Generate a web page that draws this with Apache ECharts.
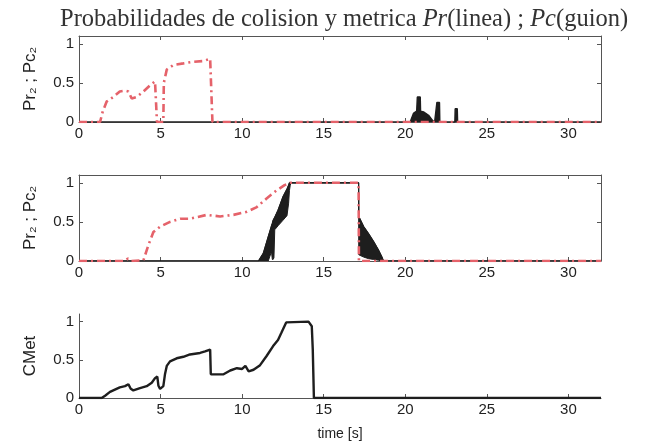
<!DOCTYPE html>
<html>
<head>
<meta charset="utf-8">
<script src="https://cdn.jsdelivr.net/npm/echarts@6/dist/echarts.min.js"></script>
<style>
html, body { margin: 0; padding: 0; background: #fff; }
#chart { width: 652px; height: 442px; }
</style>
</head>
<body>
<div id="chart"></div>
<script>
// 数据部分
// 图1: Pc (guion)
const pc1Time = [0, 1.29, 1.45, 1.69, 2.1, 2.5, 2.82, 3.03, 3.23, 3.54, 3.95, 4.36, 4.66, 4.76, 4.78, 5.17, 5.2, 5.38, 5.79, 6.4, 7.0, 7.63, 8.04, 8.14, 8.18, 32];
const pc1 = [0, 0, 0.13, 0.26, 0.32, 0.39, 0.4, 0.39, 0.3, 0.32, 0.39, 0.47, 0.52, 0.5, 0, 0, 0.5, 0.67, 0.73, 0.75, 0.77, 0.78, 0.81, 0.8, 0, 0];
// 图1: Pr (linea)
const pr1Time = [0, 20.3, 20.5, 20.7, 20.72, 20.74, 20.92, 20.94, 21.12, 21.43, 21.67, 21.8, 21.92, 21.94, 22.1, 22.12, 23.04, 23.06, 23.19, 23.21, 32];
const pr1 = [0, 0, 0.11, 0.14, 0.15, 0.32, 0.32, 0.14, 0.13, 0.086, 0.02, 0, 0, 0.25, 0.25, 0, 0, 0.17, 0.17, 0, 0];

// 图2: Pc
const pc2Time = [0, 2.8, 3.0, 3.2, 3.95, 4.25, 4.56, 4.97, 5.58, 6.2, 6.8, 7.83, 8.65, 9.47, 10.3, 10.9, 11.5, 12.1, 12.6, 12.95, 17.14, 17.16, 32];
const pc2 = [0, 0, 0.03, 0, 0.01, 0.2, 0.37, 0.44, 0.5, 0.54, 0.54, 0.59, 0.57, 0.59, 0.63, 0.69, 0.8, 0.9, 0.97, 1.0, 1.0, 0, 0];
// 图2: Pr (oscila, banda entre borde inferior y superior)
const pr2Time = [0, 11.0, 11.3, 11.5, 11.6, 11.8, 11.85, 11.9, 11.95, 12.0, 12.2, 12.5, 12.75, 12.85, 12.9, 12.95, 13.0, 17.14, 17.15, 17.45, 17.75, 18.06, 18.36, 18.57, 18.67, 32];
const pr2Upper = [0, 0, 0.1, 0.24, 0.31, 0.45, 0.48, 0.52, 0.54, 0.56, 0.65, 0.82, 0.92, 0.97, 1.0, 1.0, 1.0, 1.0, 0.57, 0.44, 0.35, 0.25, 0.14, 0.05, 0, 0];
const pr2Lower = [0, 0, 0, 0, 0, 0.12, 0.02, 0.02, 0.04, 0.4, 0.45, 0.52, 0.58, 0.74, 0.9, 0.97, 1.0, 1.0, 0.08, 0.05, 0.03, 0.02, 0.01, 0, 0, 0];

// 图3: CMet
const cmTime = [0, 1.39, 1.6, 1.9, 2.2, 2.5, 2.82, 3.03, 3.17, 3.33, 3.74, 4.15, 4.46, 4.66, 4.8, 4.87, 4.97, 5.17, 5.27, 5.38, 5.58, 5.99, 6.4, 6.8, 7.42, 7.73, 8.04, 8.08, 8.45, 8.86, 9.27, 9.68, 10.0, 10.2, 10.4, 10.7, 11.1, 11.5, 11.9, 12.2, 12.4, 12.7, 12.8, 14.07, 14.27, 14.33, 14.4, 32];
const cm = [0, 0, 0.03, 0.08, 0.11, 0.14, 0.155, 0.18, 0.12, 0.1, 0.13, 0.155, 0.2, 0.26, 0.28, 0.16, 0.12, 0.155, 0.31, 0.42, 0.48, 0.52, 0.54, 0.57, 0.59, 0.61, 0.635, 0.31, 0.31, 0.31, 0.36, 0.39, 0.38, 0.42, 0.35, 0.37, 0.43, 0.55, 0.68, 0.76, 0.85, 0.99, 1, 1, 0.94, 0.64, 0, 0];

const xTicks = { min: 0, max: 32, interval: 5 };
const yTicks = { min: 0, max: 1.1, interval: 0.5 };

function pairs(t, v) {
    return t.map(function (x, i) { return [x, v[i]]; });
}

let chart = echarts.init(document.getElementById('chart'));

const red = '#e5626a';
const black = '#1e1e1e';
const axisColor = '#555';
const font = 'Liberation Sans';

function xAxisOf(grid, pos, showLabel, name) {
    return {
        type: 'value', gridIndex: grid, position: pos,
        min: xTicks.min, max: xTicks.max, interval: xTicks.interval,
        axisLine: { show: true, onZero: false, lineStyle: { color: axisColor, width: 1 } },
        axisTick: { show: true, inside: true, length: 4, lineStyle: { color: axisColor } },
        axisLabel: { show: showLabel, showMaxLabel: false, color: '#222', fontSize: 15, fontFamily: font, margin: 4 },
        splitLine: { show: false },
        name: name || '', nameLocation: 'middle', nameGap: 29,
        nameTextStyle: { color: '#222', fontSize: 14, fontFamily: font }
    };
}
function yAxisOf(grid, pos, showLabel, name) {
    return {
        type: 'value', gridIndex: grid, position: pos,
        min: yTicks.min, max: yTicks.max, interval: yTicks.interval,
        axisLine: { show: true, onZero: false, lineStyle: { color: axisColor, width: 1 } },
        axisTick: { show: true, inside: true, length: 4, lineStyle: { color: axisColor } },
        axisLabel: { show: showLabel, showMaxLabel: false, color: '#222', fontSize: 15, fontFamily: font, margin: 5 },
        splitLine: { show: false },
        name: name || '', nameLocation: 'middle', nameGap: 40, nameRotate: 90,
        nameTextStyle: { color: '#222', fontSize: 17, fontFamily: font }
    };
}

function line(data, xi, color, width, dashed, extra) {
    let s = {
        type: 'line', xAxisIndex: xi, yAxisIndex: xi, data: data,
        symbol: 'none', animation: false, silent: true,
        lineStyle: { color: color, width: width, type: dashed ? [8, 4, 2, 4] : 'solid' }
    };
    return Object.assign(s, extra || {});
}

// banda de Pr en el grafico 2: borde superior de ida, borde inferior de vuelta
function renderBand(params, api) {
    let pts = [];
    for (let i = 0; i < pr2Time.length; i++) pts.push(api.coord([pr2Time[i], pr2Upper[i]]));
    for (let i = pr2Time.length - 1; i >= 0; i--) pts.push(api.coord([pr2Time[i], pr2Lower[i]]));
    return { type: 'polygon', shape: { points: pts }, style: { fill: black, stroke: black, lineWidth: 1 } };
}

let option = {
    backgroundColor: '#fff',
    title: {
        text: '{r|Probabilidades de colision y metrica }{i|Pr}{r|(linea) ; }{i|Pc}{r|(guion)}',
        left: 55, top: 2,
        textStyle: {
            rich: {
                r: { fontFamily: 'Liberation Serif', fontWeight: 'normal', fontSize: 24.5, color: '#333' },
                i: { fontFamily: 'Liberation Serif', fontWeight: 'normal', fontStyle: 'italic', fontSize: 24.5, color: '#333' }
            }
        }
    },
    grid: [
        { left: 79, right: 51, top: 36, height: 86 },
        { left: 79, right: 51, top: 175, height: 86 },
        { left: 79, right: 51, top: 314, height: 85 }
    ],
    xAxis: [
        xAxisOf(0, 'bottom', true),
        xAxisOf(1, 'bottom', true),
        xAxisOf(2, 'bottom', true, 'time [s]'),
        xAxisOf(0, 'top', false),
        xAxisOf(1, 'top', false)
    ],
    yAxis: [
        yAxisOf(0, 'left', true, 'Pr\u2082 ; Pc\u2082'),
        yAxisOf(1, 'left', true, 'Pr\u2082 ; Pc\u2082'),
        yAxisOf(2, 'left', true, 'CMet'),
        yAxisOf(0, 'right', false),
        yAxisOf(1, 'right', false)
    ],
    series: [
        // 图1
        line(pairs(pr1Time, pr1), 0, black, 1.4, false, { areaStyle: { color: black, opacity: 1 } }),
        line(pairs(pc1Time, pc1), 0, red, 2.6, true),
        // 图2
        {
            type: 'custom', xAxisIndex: 1, yAxisIndex: 1, data: [[0, 0]],
            renderItem: renderBand, animation: false, silent: true, clip: true
        },
        line(pairs(pr2Time, pr2Upper), 1, black, 1.2, false),
        line(pairs(pc2Time, pc2), 1, red, 2.6, true),
        // 图3
        line(pairs(cmTime, cm), 2, black, 2.4, false)
    ]
};

chart.setOption(option);
</script>
</body>
</html>
